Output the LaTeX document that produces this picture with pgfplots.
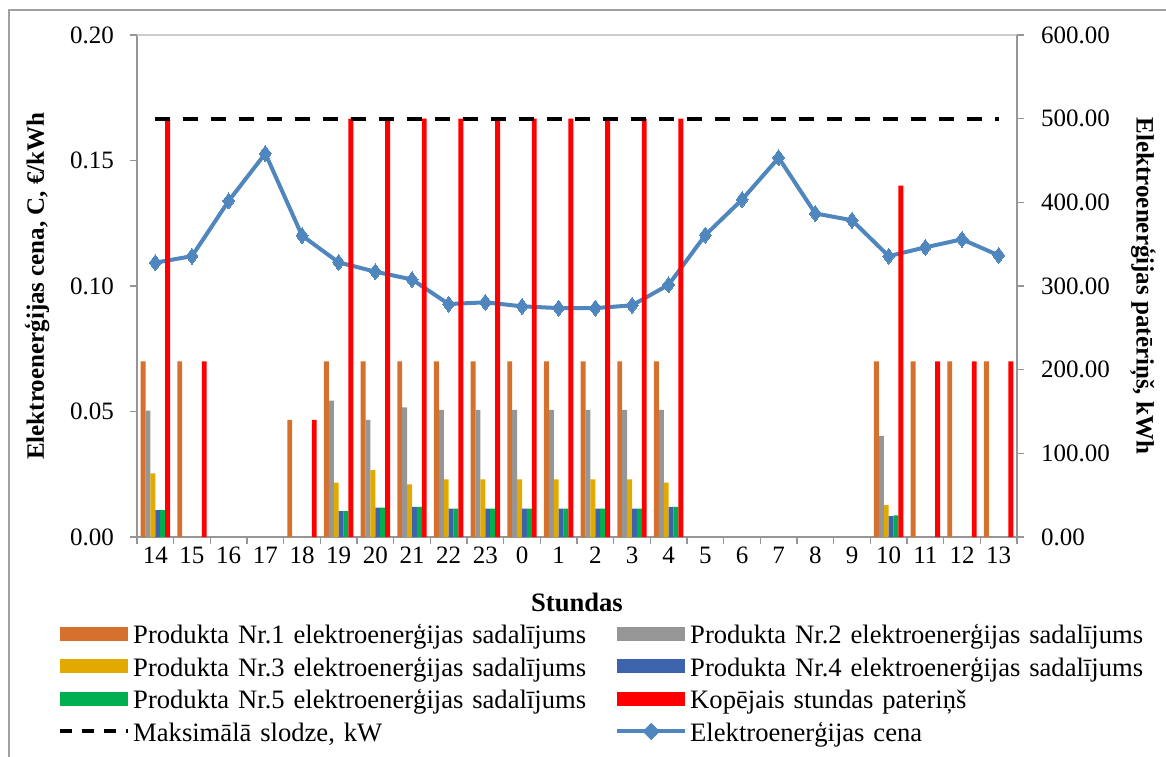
\documentclass[border=0pt]{standalone}
\usepackage{pgfplots}
\pgfplotsset{compat=1.18}
\usepackage{fontspec}
\setmainfont{Liberation Serif}
\definecolor{cOr}{RGB}{213,112,45}
\definecolor{cGr}{RGB}{150,150,150}
\definecolor{cYe}{RGB}{226,170,0}
\definecolor{cBl}{RGB}{62,99,173}
\definecolor{cGn}{RGB}{0,176,80}
\definecolor{cRe}{RGB}{255,0,0}
\definecolor{cLine}{RGB}{79,134,189}
\definecolor{axgray}{RGB}{150,150,150}
\definecolor{frgray}{RGB}{160,160,160}
\begin{document}
\begin{tikzpicture}
\path[use as bounding box] (-68.5pt,-109.5pt) rectangle (514.5pt,268.5pt);
\draw[frgray, line width=0.7pt] (-64pt,-120pt) -- (-64pt,263.5pt) -- (530pt,263.5pt);
\pgfplotsset{every axis/.append style={font=\fontsize{12.5}{15}\selectfont}}
\begin{axis}[
  scale only axis, width=440pt, height=251pt,
  xmin=-0.5, xmax=23.5, ymin=0, ymax=0.2,
  axis x line*=bottom, axis y line*=left,
  axis line style={draw=axgray, line width=0.6pt, -},
  xtick={0,...,23},
  xticklabels={14,15,16,17,18,19,20,21,22,23,0,1,2,3,4,5,6,7,8,9,10,11,12,13},
  major x tick style={draw=none},
  minor xtick={-0.5,0.5,...,23.5},
  tick align=outside,
  tick style={draw=axgray, line width=0.6pt},
  major tick length=3.5pt, minor tick length=3.5pt,
  ytick={0,0.05,0.1,0.15,0.2},
  scaled y ticks=false,
  yticklabel={\pgfmathprintnumber[fixed,fixed zerofill,precision=2,assume math mode=true]{\tick}},
  yticklabel style={xshift=-4.5pt},
  xticklabel style={/pgf/number format/assume math mode=true, yshift=2pt},
  xlabel={\textbf{Stundas}},
  xlabel style={at={(axis description cs:0.5,0)}, anchor=base, yshift=-37pt, font=\fontsize{13.3}{15}\selectfont},
  ylabel={\textbf{Elektroenerģijas cena, C, €/kWh}},
  ylabel style={at={(axis description cs:-0.1136,0.5)}, anchor=center},
  clip=false,
]
\addplot[cLine, line width=2pt, mark=diamond*, mark size=4pt,
  mark options={fill=cLine, draw=cLine, line width=0pt}] coordinates {
(0,0.1093) (1,0.1119) (2,0.1339) (3,0.1528) (4,0.1201) (5,0.1094)
(6,0.1057) (7,0.1026) (8,0.0928) (9,0.0935) (10,0.0919) (11,0.0912)
(12,0.0912) (13,0.0923) (14,0.1005) (15,0.1203) (16,0.1344) (17,0.1511)
(18,0.1289) (19,0.1262) (20,0.1119) (21,0.1154) (22,0.1186) (23,0.1122)};
\draw[gray!40, line width=0.6pt] (axis description cs:0,1) -- (axis description cs:1,1);
\end{axis}
\begin{axis}[
  scale only axis, width=440pt, height=251pt,
  xmin=-0.5, xmax=23.5, ymin=0, ymax=600,
  axis x line=none, axis y line*=right,
  axis line style={draw=axgray, line width=0.6pt, -},
  tick align=outside,
  tick style={draw=axgray, line width=0.6pt},
  major tick length=3.5pt,
  ytick={0,100,200,300,400,500,600},
  scaled y ticks=false,
  yticklabel={\pgfmathprintnumber[fixed,fixed zerofill,precision=2,assume math mode=true]{\tick}},
  yticklabel style={xshift=5pt},
  ylabel={\textbf{Elektroenerģijas patēriņš, kWh}},
  ylabel style={at={(axis description cs:1.1432,0.5)}, anchor=center, rotate=180},
  legend columns=2,
  legend style={at={(axis description cs:-0.0895,-0.177)}, anchor=north west,
    draw=none, fill=none, inner sep=0pt, outer sep=0pt,
    font=\fontsize{13.3}{15}\selectfont, row sep=4.2pt,
    nodes={inner sep=0pt, text height=9pt, text depth=3pt, text width=238pt, align=left},
    /tikz/every odd column/.append style={column sep=1.5pt},
    /tikz/every even column/.append style={column sep=3pt}},
  legend cell align=left,
]
\addplot[ybar, bar width=2.45pt, bar shift=-6.125pt, fill=cOr, draw=none,
  legend image code/.code={\fill[cOr] (0pt,-1.5pt) rectangle (34pt,5.5pt);}] coordinates {
(0,210) (1,210) (4,140) (5,210) (6,210) (7,210) (8,210) (9,210) (10,210) (11,210)
(12,210) (13,210) (14,210) (20,210) (21,210) (22,210) (23,210)};
\addlegendentry{Produkta Nr.1 elektroenerģijas sadalījums}
\addplot[ybar, bar width=2.45pt, bar shift=-3.675pt, fill=cGr, draw=none,
  legend image code/.code={\fill[cGr] (0pt,-1.5pt) rectangle (34pt,5.5pt);}] coordinates {
(0,151) (5,163) (6,140) (7,155) (8,152) (9,152) (10,152) (11,152) (12,152) (13,152)
(14,152) (20,121)};
\addlegendentry{Produkta Nr.2 elektroenerģijas sadalījums}
\addplot[ybar, bar width=2.45pt, bar shift=-1.225pt, fill=cYe, draw=none,
  legend image code/.code={\fill[cYe] (0pt,-1.5pt) rectangle (34pt,5.5pt);}] coordinates {
(0,76) (5,65) (6,80) (7,63) (8,69) (9,69) (10,69) (11,69) (12,69) (13,69)
(14,65) (20,38)};
\addlegendentry{Produkta Nr.3 elektroenerģijas sadalījums}
\addplot[ybar, bar width=2.45pt, bar shift=1.225pt, fill=cBl, draw=none,
  legend image code/.code={\fill[cBl] (0pt,-1.5pt) rectangle (34pt,5.5pt);}] coordinates {
(0,32) (5,31) (6,35) (7,36) (8,34) (9,34) (10,34) (11,34) (12,34) (13,34)
(14,36) (20,25)};
\addlegendentry{Produkta Nr.4 elektroenerģijas sadalījums}
\addplot[ybar, bar width=2.45pt, bar shift=3.675pt, fill=cGn, draw=none,
  legend image code/.code={\fill[cGn] (0pt,-1.5pt) rectangle (34pt,5.5pt);}] coordinates {
(0,32) (5,31) (6,35) (7,36) (8,34) (9,34) (10,34) (11,34) (12,34) (13,34)
(14,36) (20,26)};
\addlegendentry{Produkta Nr.5 elektroenerģijas sadalījums}
\addplot[ybar, bar width=2.45pt, bar shift=6.125pt, fill=cRe, draw=none,
  legend image code/.code={\fill[cRe] (0pt,-1.5pt) rectangle (34pt,5.5pt);}] coordinates {
(0,500) (1,210) (4,140) (5,500) (6,500) (7,500) (8,500) (9,500) (10,500) (11,500)
(12,500) (13,500) (14,500) (20,420) (21,210) (22,210) (23,210)};
\addlegendentry{Kopējais stundas pateriņš}
\addplot[black, line width=2pt, dash pattern=on 7.5pt off 6.5pt, no marks,
  legend image code/.code={\draw[black, line width=2pt, dash pattern=on 6pt off 5pt] (0pt,2pt) -- (34pt,2pt);}]
  coordinates {(0,500) (23,500)};
\addlegendentry{Maksimālā slodze, kW}
\addlegendimage{legend image code/.code={\draw[cLine, line width=2pt] (0pt,2pt) -- (34pt,2pt);
  \fill[cLine] (17pt,-2pt) -- (21pt,2pt) -- (17pt,6pt) -- (13pt,2pt) -- cycle;}}
\addlegendentry{Elektroenerģijas cena}
\end{axis}
\end{tikzpicture}
\end{document}
